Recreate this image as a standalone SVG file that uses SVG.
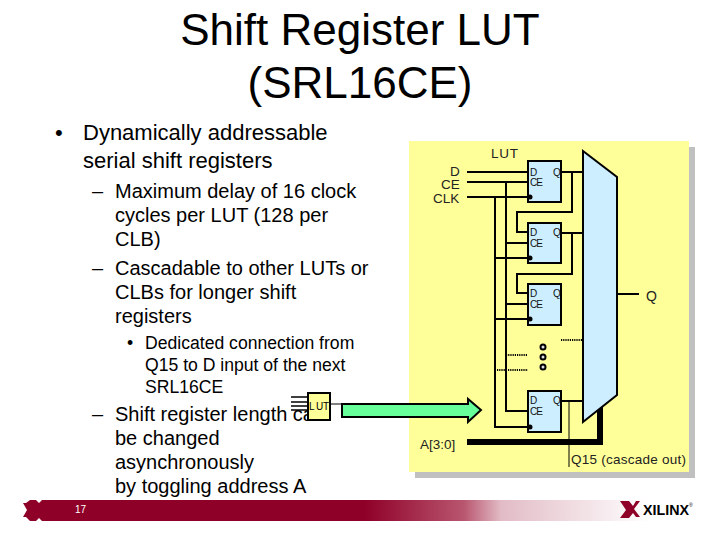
<svg xmlns="http://www.w3.org/2000/svg" width="720" height="540" viewBox="0 0 720 540">
<style>
text{font-family:"Liberation Sans",Arial,sans-serif;fill:#000}
.t{font-size:44px;text-anchor:middle}
.b1{font-size:22px}
.b2{font-size:20px}
.b3{font-size:17.6px}
.l{font-size:13.5px;fill:#222}
.f{font-size:10px;fill:#111}
.ff{fill:#cceeff;stroke:#000;stroke-width:2}
.w{fill:none;stroke:#000;stroke-width:2}
.d{fill:none;stroke:#000;stroke-width:2;stroke-dasharray:1.2 1}
.c{fill:#ddd;stroke:#000;stroke-width:2}
</style>
<defs>
<linearGradient id="bar" gradientUnits="userSpaceOnUse" x1="30" y1="0" x2="650" y2="0">
<stop offset="0" stop-color="#8f0028"/>
<stop offset="0.54" stop-color="#8f0028"/>
<stop offset="0.7" stop-color="#b9566f"/>
<stop offset="0.76" stop-color="#e2bcc6"/>
<stop offset="1" stop-color="#fff"/>
</linearGradient>
</defs>
<rect width="720" height="540" fill="#fff"/>
<g id="title">
<text class="t" x="360" y="45">Shift Register LUT</text>
<text class="t" x="360" y="98">(SRL16CE)</text>
</g>
<g id="bullets">
<text class="b1" x="55" y="140">•</text>
<text class="b1" x="83" y="140">Dynamically addressable</text>
<text class="b1" x="83" y="168">serial shift registers</text>
<text class="b2" x="92" y="198">–</text>
<text class="b2" x="115" y="198">Maximum delay of 16 clock</text>
<text class="b2" x="115" y="222">cycles per LUT (128 per</text>
<text class="b2" x="115" y="246">CLB)</text>
<text class="b2" x="92" y="275">–</text>
<text class="b2" x="115" y="275">Cascadable to other LUTs or</text>
<text class="b2" x="115" y="299">CLBs for longer shift</text>
<text class="b2" x="115" y="323">registers</text>
<text class="b3" x="127" y="349">•</text>
<text class="b3" x="145" y="349">Dedicated connection from</text>
<text class="b3" x="145" y="371">Q15 to D input of the next</text>
<text class="b3" x="145" y="393">SRL16CE</text>
<text class="b2" x="92" y="421">–</text>
<text class="b2" x="115" y="421">Shift register length can</text>
<text class="b2" x="115" y="445">be changed</text>
<text class="b2" x="115" y="469">asynchronously</text>
<text class="b2" x="115" y="493">by toggling address A</text>
</g>
<g id="panel">
<rect x="415" y="147" width="280" height="331" fill="#c0c0c0"/>
<rect x="409" y="141" width="280" height="331" fill="#ffff99"/>
<text class="l" x="491" y="158" textLength="27">LUT</text>
<text class="l" x="450" y="176">D</text>
<text class="l" x="441" y="189">CE</text>
<text class="l" x="433" y="203">CLK</text>
<text class="l" x="420" y="449">A[3:0]</text>
<text class="l" x="571" y="464" textLength="115">Q15 (cascade out)</text>
<text class="l" x="646" y="301" style="font-size:14px">Q</text>
</g>
<g id="connectors">
<path class="w" d="M467 172H528M467 182H528M467 197H528"/>
<path class="w" d="M506 182V411H528M495 197V427H528M506 243H528M495 258H528M506 304H528M495 319H528"/>
<path class="w" d="M561 172H583M572 172V212H517V232H528M561 233H583M572 233V274H517V293H528M561 401H583M617 294H639"/>
<path d="M569 401V467" fill="none" stroke="#000" stroke-width="1"/>
<path class="d" d="M561 340H583M506 355H528M497 370H528"/>
<path d="M467 442H600V405" fill="none" stroke="#000" stroke-width="6"/>
</g>
<g id="mux"><path d="M583 151L617 177V395L583 422Z" fill="#cceeff" stroke="#000" stroke-width="2"/></g>
<g id="ff1"><rect class="ff" x="528" y="161" width="33" height="41"/><circle cx="530" cy="197" r="2.5"/><text class="f" x="530" y="176">D</text><text class="f" x="530" y="186" textLength="13">CE</text><text class="f" x="553" y="176">Q</text></g>
<g id="ff2"><rect class="ff" x="528" y="223" width="33" height="40"/><circle cx="530" cy="258" r="2.5"/><text class="f" x="530" y="236">D</text><text class="f" x="530" y="247" textLength="13">CE</text><text class="f" x="553" y="236">Q</text></g>
<g id="ff3"><rect class="ff" x="528" y="284" width="33" height="41"/><circle cx="530" cy="319" r="2.5"/><text class="f" x="530" y="297">D</text><text class="f" x="530" y="308" textLength="13">CE</text><text class="f" x="553" y="297">Q</text></g>
<g id="ff4"><rect class="ff" x="528" y="391" width="33" height="41"/><circle cx="530" cy="427" r="2.5"/><text class="f" x="530" y="404">D</text><text class="f" x="530" y="415" textLength="13">CE</text><text class="f" x="553" y="404">Q</text></g>
<g id="dots"><circle class="c" cx="543" cy="347" r="2.5"/><circle class="c" cx="543" cy="357" r="2.5"/><circle class="c" cx="543" cy="367" r="2.5"/></g>
<g id="small-lut">
<path d="M291 397H308M291 402H308M291 406H308M291 410H308" fill="none" stroke="#000" stroke-width="1.5"/>
<path d="M330 404H342" fill="none" stroke="#000" stroke-width="1"/>
<rect x="308" y="393" width="22" height="27" fill="#ffff99" stroke="#000" stroke-width="2"/>
<text x="309" y="410" style="font-size:10px" textLength="20">L UT</text>
</g>
<g id="arrow"><path d="M342 404H468V399L481 410L468 422V417H342Z" fill="#66ff99" stroke="#000" stroke-width="2"/></g>
<g id="footer">
<path d="M30 500H36L39 503L42 500H480V521H42L39 518L36 521H30L26 517L23 517L27 510L23 503L26 503Z" fill="#8f0028"/>
<rect x="480" y="500" width="180" height="21" fill="url(#bar)"/>
<rect x="42" y="500" width="440" height="21" fill="url(#bar)"/>
<text x="75" y="513" style="font-size:10px;fill:#fff">17</text>
<path d="M620 501H629L633 506L636 501H640L634 509L640 517H636L633 513L629 518H620L626 510Z" fill="#8f0028"/>
<text x="643" y="515" textLength="46" lengthAdjust="spacingAndGlyphs" style="font-size:15px;font-weight:bold">XILINX</text>
<text x="689" y="507" style="font-size:5px">®</text>
</g>
</svg>
